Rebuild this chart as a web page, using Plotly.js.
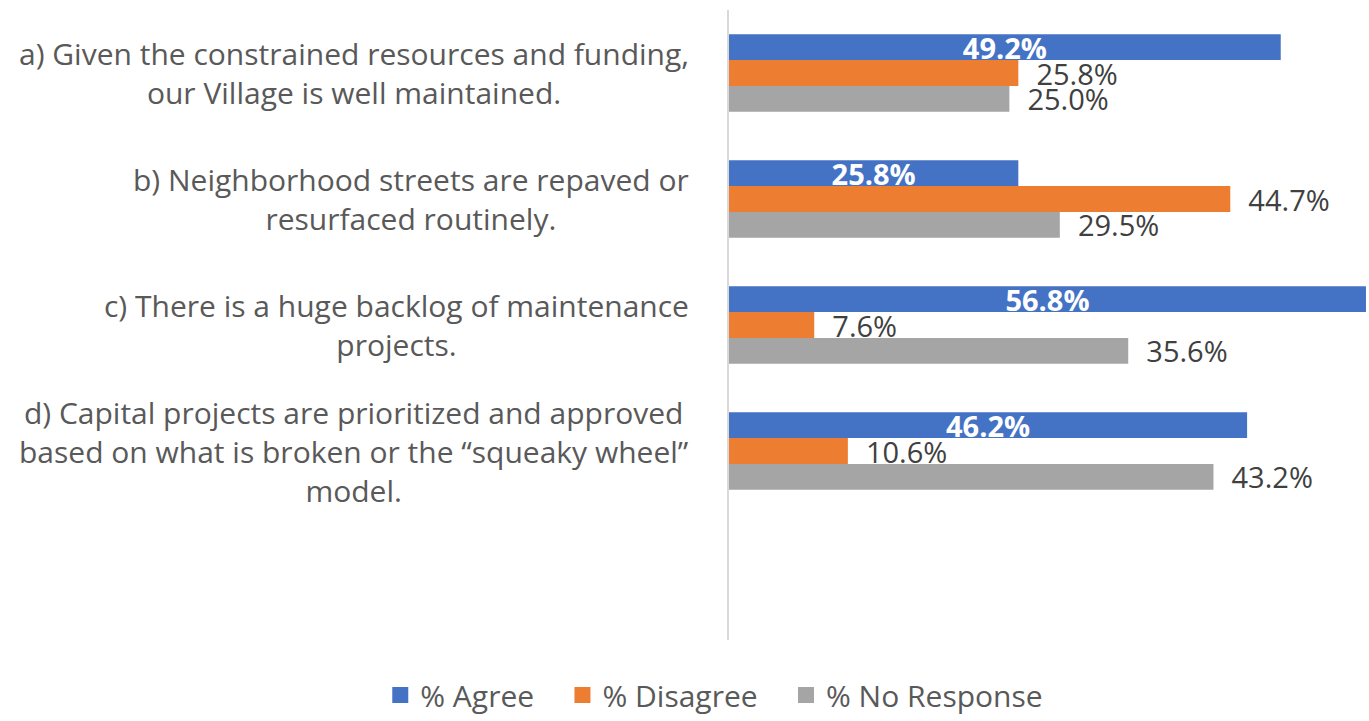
<!DOCTYPE html>
<html>
<head>
<meta charset="utf-8">
<script src="https://cdn.plot.ly/plotly-3.0.1.min.js"></script>
<style>html,body{margin:0;padding:0;background:#fff;}#chart{width:1369px;height:721px;}</style>
</head>
<body>
<div id="chart"></div>
<script>
const categories = ['a', 'b', 'c', 'd'];
const categoryLabels = [
  'a) Given the constrained resources and funding,<br>our Village is well maintained.',
  'b) Neighborhood streets are repaved or<br>resurfaced routinely.',
  'c) There is a huge backlog of maintenance<br>projects.',
  'd) Capital projects are prioritized and approved<br>based on what is broken or the \u201csqueaky wheel\u201d<br>model.'
];
const seriesNames = ['% Agree', '% Disagree', '% No Response'];
const agree = [49.2, 25.8, 56.8, 46.2];
const disagree = [25.8, 44.7, 7.6, 10.6];
const noResponse = [25.0, 29.5, 35.6, 43.2];
const colors = ['#4472C4', '#ED7D31', '#A5A5A5'];

const FONT = '"Open Sans", sans-serif';
const fmt = v => v.toFixed(1) + '%';
const NB = '\u00a0';

function barTrace(name, vals, color, inside) {
  return {
    type: 'bar', orientation: 'h', name: name, showlegend: false,
    y: categories, x: vals,
    marker: {color: color},
    text: vals.map(v => inside ? fmt(v) : NB + NB + fmt(v)),
    textposition: inside ? 'inside' : 'outside',
    insidetextanchor: 'middle',
    constraintext: 'none',
    cliponaxis: false,
    textfont: inside ? {family: FONT, size: 29, color: '#ffffff', weight: 'bold'}
                     : {family: FONT, size: 29, color: '#404040'},
    hoverinfo: 'skip'
  };
}

function legendTrace(name, color, pad) {
  return {
    type: 'scatter', mode: 'markers', name: name + pad,
    x: [null], y: [null],
    marker: {symbol: 'square', size: 18, color: color},
    hoverinfo: 'skip'
  };
}

const data = [
  barTrace(seriesNames[0], agree, colors[0], true),
  barTrace(seriesNames[1], disagree, colors[1], false),
  barTrace(seriesNames[2], noResponse, colors[2], false),
  legendTrace(seriesNames[0], colors[0], NB + NB + NB),
  legendTrace(seriesNames[1], colors[1], NB + NB + NB),
  legendTrace(seriesNames[2], colors[2], '')
];

const annotations = categories.map((c, i) => ({
  xref: 'paper', yref: 'y', x: 0, y: c,
  xanchor: 'right', yanchor: 'middle', xshift: -38,
  text: categoryLabels[i], align: 'center', showarrow: false,
  font: {family: FONT, size: 30, color: '#595959'}
}));

const layout = {
  width: 1369, height: 721,
  margin: {l: 729, r: 0, t: 10, b: 81, autoexpand: false},
  paper_bgcolor: '#ffffff', plot_bgcolor: '#ffffff',
  barmode: 'group', bargap: 0.385, bargroupgap: 0,
  uniformtext: {mode: 'show', minsize: 29},
  showlegend: true,
  legend: {
    orientation: 'h', x: -0.023, xanchor: 'center',
    yref: 'container', y: 0, yanchor: 'bottom',
    font: {family: FONT, size: 30, color: '#595959'},
    itemwidth: 30, traceorder: 'normal', itemsizing: 'trace'
  },
  xaxis: {range: [0, 57.07], showgrid: false, zeroline: false, showticklabels: false, showline: false, fixedrange: true},
  yaxis: {
    type: 'category', categoryorder: 'array', categoryarray: categories,
    range: [4.5, -0.5], showgrid: false, zeroline: false, showticklabels: false,
    showline: true, linecolor: '#d9d9d9', linewidth: 2, ticks: '', fixedrange: true
  },
  annotations: annotations,
  font: {family: FONT, color: '#595959'}
};

Plotly.newPlot('chart', data, layout, {displayModeBar: false, staticPlot: true});
</script>
</body>
</html>
